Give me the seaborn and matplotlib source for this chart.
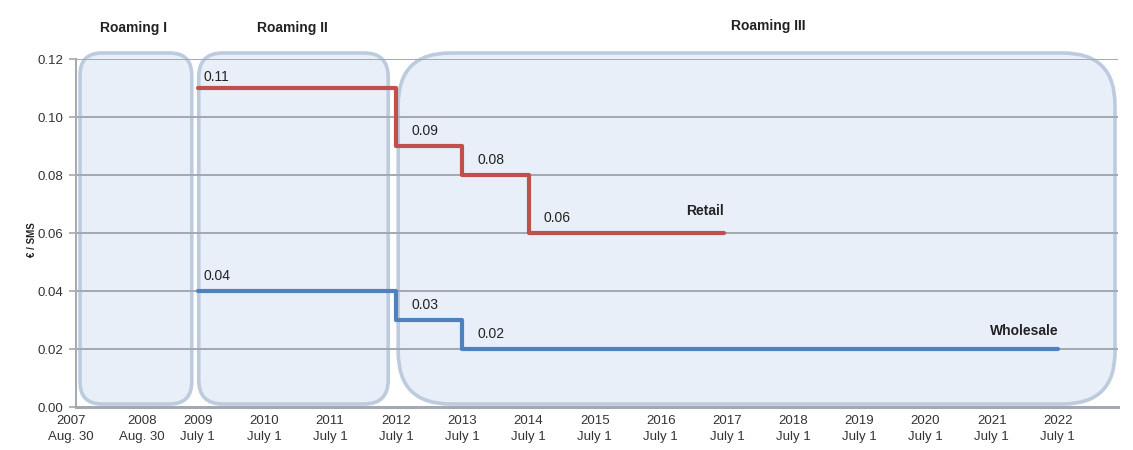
import matplotlib
matplotlib.use("Agg")
import matplotlib.pyplot as plt
import matplotlib.transforms as mtransforms
from matplotlib.patches import FancyBboxPatch
import numpy as np
import pandas as pd
import seaborn as sns

# Price caps for SMS roaming (€ per SMS), step changes on the given dates
retail_x = [2009.5, 2012.5, 2013.5, 2014.5, 2017.46]
retail_y = [0.11, 0.09, 0.08, 0.06, 0.06]
wholesale_x = [2009.5, 2012.5, 2013.5, 2022.5]
wholesale_y = [0.04, 0.03, 0.02, 0.02]

# Axis ticks (decimal years) and their labels
tick_pos = [2007.66, 2008.66] + [y + 0.5 for y in range(2009, 2023)]
tick_years = list(range(2007, 2023))
tick_dates = ["Aug. 30", "Aug. 30"] + ["July 1"] * 14

# Regulation periods
period_names = ["Roaming I", "Roaming II", "Roaming III"]
period_start = [2007.66, 2009.5, 2012.5]
period_end = [2009.5, 2012.5, 2023.41]

sns.set_theme(style="white")
plt.rcParams["font.family"] = ["Liberation Sans", "DejaVu Sans"]

fig = plt.figure(figsize=(11.33, 4.5), dpi=100)
ax = fig.add_axes([76 / 1133, 1 - 407 / 450, 1042 / 1133, 348 / 450])

df = pd.concat([
    pd.DataFrame({"date": retail_x, "price": retail_y, "series": "Retail"}),
    pd.DataFrame({"date": wholesale_x, "price": wholesale_y, "series": "Wholesale"}),
])
sns.lineplot(data=df, x="date", y="price", hue="series",
             palette={"Retail": "#c0504d", "Wholesale": "#4f81bd"},
             drawstyle="steps-post", linewidth=3, legend=False, ax=ax, zorder=4)

ax.set_xlim(2007.66, 2023.41)
ax.set_ylim(0, 0.12)

# pixel scale used for the rounded period boxes
px_per_year = 1042 / (2023.41 - 2007.66)
px_per_unit = 348 / 0.12
aspect = px_per_year / px_per_unit

insets = [(4, 6), (1, 8), (2, 3)]
radii = [22, 24, 52]
for name, s, e, (il, ir), r in zip(period_names, period_start, period_end, insets, radii):
    x0 = s + il / px_per_year
    x1 = e - ir / px_per_year
    y0 = 3 / px_per_unit
    y1 = 0.12 + 6 / px_per_unit
    box = FancyBboxPatch((x0, y0), x1 - x0, y1 - y0,
                         boxstyle=f"round,pad=0,rounding_size={r / px_per_year}",
                         mutation_aspect=aspect,
                         facecolor="#e9eff8", edgecolor="#bccbde", linewidth=2.6,
                         clip_on=False, zorder=1)
    ax.add_patch(box)

header_x = [2008.53, 2010.93, 2018.12]
header_y = [1.089, 1.089, 1.095]
for name, hx, hy in zip(period_names, header_x, header_y):
    ax.text(hx, hy, name, transform=ax.get_xaxis_transform(), ha="center", va="center",
            fontsize=10, fontweight="bold", color="#222222")

# gridlines
for yv in np.arange(0.02, 0.121, 0.02):
    ax.axhline(yv, color="#a3a9b0", linewidth=1.4, zorder=2)

# value labels above each step
def label_steps(xs, ys, first_dy):
    for i, (xv, yv) in enumerate(zip(xs[:-1], ys[:-1])):
        dx = 4 if i == 0 else 11
        dy = first_dy if i == 0 else 11
        ax.annotate(f"{yv:.2f}", (xv, yv), xytext=(dx, dy), textcoords="offset points",
                    ha="left", va="center", fontsize=10, color="#222222", zorder=5)

label_steps(retail_x, retail_y, 8)
label_steps(wholesale_x, wholesale_y, 11)

ax.text(2017.17, 0.0676, "Retail", ha="center", va="center", fontsize=10,
        fontweight="bold", color="#222222", zorder=5)
ax.text(2022.0, 0.0262, "Wholesale", ha="center", va="center", fontsize=10,
        fontweight="bold", color="#222222", zorder=5)

ax.set_yticks(np.arange(0, 0.121, 0.02))
ax.set_yticklabels([f"{v:.2f}" for v in np.arange(0, 0.121, 0.02)])
ax.set_xticks(tick_pos)
ax.set_xticklabels([f"{y}\n{d}" for y, d in zip(tick_years, tick_dates)])
ax.tick_params(axis="y", length=5, width=1.2, color="#a3a9b0", pad=4,
               labelsize=9.5, labelcolor="#333333", left=True)
ax.tick_params(axis="x", length=0, pad=6, labelsize=9.5, labelcolor="#333333")
for lbl in ax.get_xticklabels():
    lbl.set_linespacing(1.45)
# nudge the first date label a little to the left of the origin
first = ax.get_xticklabels()[0]
first.set_transform(first.get_transform() +
                    mtransforms.ScaledTranslation(-5 / 100, 0, fig.dpi_scale_trans))

ax.set_xlabel("")
ax.set_ylabel("€ / SMS", fontsize=7, fontweight="bold", color="#222222")
ax.yaxis.set_label_coords(-0.037, 0.48)

for side in ["top", "right"]:
    ax.spines[side].set_visible(False)
ax.spines["left"].set_color("#a3a9b0")
ax.spines["left"].set_linewidth(1.4)
ax.spines["bottom"].set_color("#a3a9b0")
ax.spines["bottom"].set_linewidth(2.2)
ax.spines["left"].set_zorder(2)
ax.spines["bottom"].set_zorder(2)
ax.set_facecolor("white")

fig.savefig("out.png", dpi=100)
